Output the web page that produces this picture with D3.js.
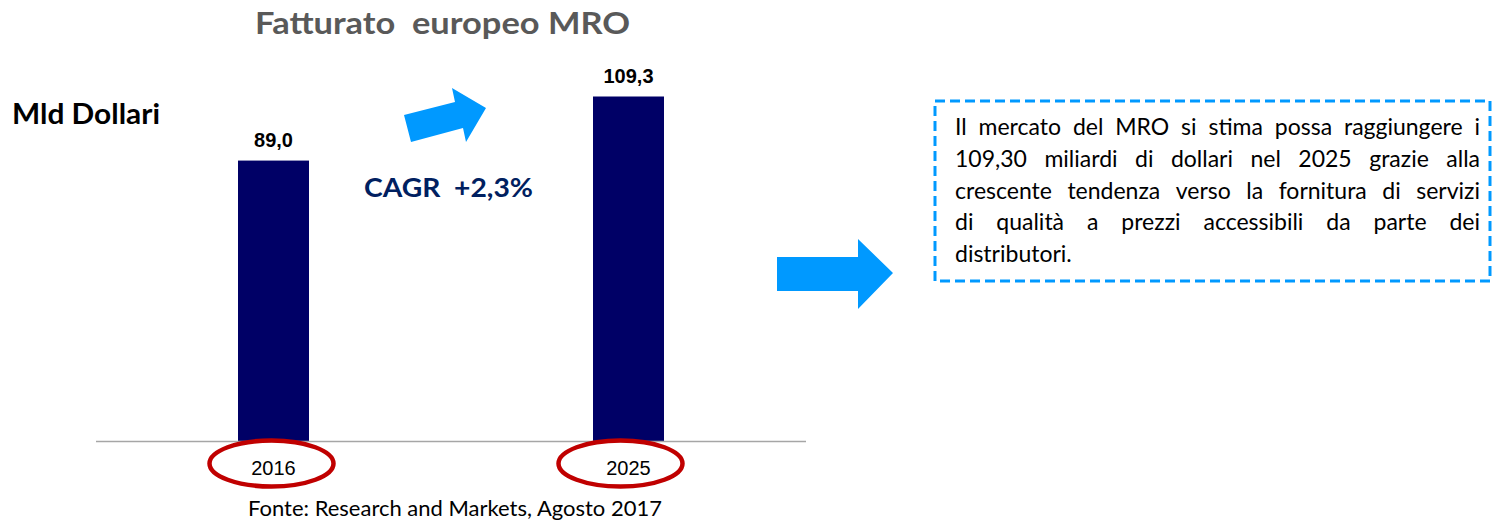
<!DOCTYPE html>
<html>
<head>
<meta charset="utf-8">
<script src="https://cdn.jsdelivr.net/npm/d3@7"></script>
<style>
  html, body { margin: 0; padding: 0; background: #fff; }
  svg { display: block; }
</style>
</head>
<body>
<div id="chart"></div>
<script>
// chart data
const years = ['2016', '2025'];
const revenue = [89.0, 109.3];
const valueLabels = ['89,0', '109,3'];

const titleText = 'Fatturato  europeo MRO';
const unitText = 'Mld Dollari';
const cagrText = 'CAGR  +2,3%';
const sourceText = 'Fonte: Research and Markets, Agosto 2017';
const noteLines = [
  'Il mercato del MRO si stima possa raggiungere i',
  '109,30 miliardi di dollari nel 2025 grazie alla',
  'crescente tendenza verso la fornitura di servizi',
  'di qualità a prezzi accessibili da parte dei',
  'distributori.'
];

const colors = {
  bar: '#000066',
  title: '#595959',
  cagr: '#002060',
  arrow: '#0099FF',
  ring: '#C00000',
  axis: '#A6A6A6',
};

const calibri = 'Lato, "Open Sans", sans-serif';
const arial = '"Liberation Sans", Arial, sans-serif';

const width = 1493, height = 522;

const svg = d3.select('#chart').append('svg')
  .attr('width', width)
  .attr('height', height);

// ----------------------------------------------------------------------------
// SCALES
// ----------------------------------------------------------------------------
const plotLeft = 96, plotRight = 806, baseY = 441.5;

const x = d3.scaleBand()
  .domain(years)
  .range([plotLeft, plotRight])
  .paddingInner(0.8)
  .paddingOuter(0.4);

const y = d3.scaleLinear()
  .domain([0, 109.3])
  .range([baseY, 96.5]);

// ----------------------------------------------------------------------------
// BARS
// ----------------------------------------------------------------------------
const bars = svg.append('g').attr('class', 'bars');
bars.selectAll('rect')
  .data(revenue)
  .join('rect')
    .attr('x', (d, i) => x(years[i]))
    .attr('y', d => y(d))
    .attr('width', x.bandwidth())
    .attr('height', d => baseY - y(d))
    .attr('fill', colors.bar);

bars.selectAll('text')
  .data(revenue)
  .join('text')
    .attr('x', (d, i) => x(years[i]) + x.bandwidth() / 2)
    .attr('y', d => y(d) - 14)
    .attr('text-anchor', 'middle')
    .attr('font-family', arial)
    .attr('font-weight', 'bold')
    .attr('font-size', 20)
    .attr('fill', '#000')
    .text((d, i) => valueLabels[i]);

// baseline
svg.append('line')
  .attr('x1', plotLeft).attr('x2', plotRight)
  .attr('y1', baseY).attr('y2', baseY)
  .attr('stroke', colors.axis)
  .attr('stroke-width', 1.5);

// ----------------------------------------------------------------------------
// X AXIS (years + red rings)
// ----------------------------------------------------------------------------
const axisG = svg.append('g')
  .attr('transform', `translate(0,${baseY})`);
axisG.call(d3.axisBottom(x).tickSize(0).tickPadding(0));
axisG.select('.domain').remove();
axisG.selectAll('.tick text')
  .attr('y', 33)
  .attr('dy', 0)
  .attr('font-family', arial)
  .attr('font-size', 20)
  .attr('fill', '#000');

axisG.selectAll('.tick').insert('ellipse', 'text')
  .attr('cx', (d, i) => i ? -8 : -2)
  .attr('cy', 22)
  .attr('rx', 62)
  .attr('ry', 23)
  .attr('fill', 'none')
  .attr('stroke', colors.ring)
  .attr('stroke-width', 4.5);

// ----------------------------------------------------------------------------
// TEXTS
// ----------------------------------------------------------------------------
svg.append('text')
  .attr('x', 255).attr('y', 34)
  .attr('font-family', calibri)
  .attr('font-weight', 'bold')
  .attr('font-size', 31)
  .attr('fill', colors.title)
  .attr('textLength', 375)
  .attr('lengthAdjust', 'spacingAndGlyphs')
  .style('white-space', 'pre')
  .text(titleText);

svg.append('text')
  .attr('x', 12).attr('y', 124)
  .attr('font-family', calibri)
  .attr('font-weight', 'bold')
  .attr('font-size', 28)
  .attr('fill', '#000')
  .attr('textLength', 148)
  .attr('lengthAdjust', 'spacingAndGlyphs')
  .text(unitText);

svg.append('text')
  .attr('x', 364).attr('y', 197)
  .attr('font-family', calibri)
  .attr('font-weight', 'bold')
  .attr('font-size', 27)
  .attr('fill', colors.cagr)
  .attr('textLength', 169)
  .attr('lengthAdjust', 'spacingAndGlyphs')
  .style('white-space', 'pre')
  .text(cagrText);

svg.append('text')
  .attr('x', 248).attr('y', 516)
  .attr('font-family', calibri)
  .attr('font-size', 21)
  .attr('fill', '#000')
  .attr('textLength', 414)
  .attr('lengthAdjust', 'spacingAndGlyphs')
  .text(sourceText);

// ----------------------------------------------------------------------------
// ARROWS
// ----------------------------------------------------------------------------
const arrowPath = d3.line();
svg.append('path')
  .attr('d', arrowPath([[404, 115], [455, 102], [452, 88], [486, 108], [466, 142], [463, 128], [411, 142]]) + 'Z')
  .attr('fill', colors.arrow);

svg.append('path')
  .attr('d', arrowPath([[777, 257], [858, 257], [858, 239], [893, 273], [858, 309], [858, 291], [777, 291]]) + 'Z')
  .attr('fill', colors.arrow);

// ----------------------------------------------------------------------------
// NOTE BOX (dashed, justified text)
// ----------------------------------------------------------------------------
svg.append('rect')
  .attr('x', 935).attr('y', 101)
  .attr('width', 555).attr('height', 180)
  .attr('fill', 'none')
  .attr('stroke', colors.arrow)
  .attr('stroke-width', 3)
  .attr('stroke-dasharray', '10,5');

const textLeft = 955, textRight = 1480, firstBase = 135, lineGap = 31.8;
const noteG = svg.append('g')
  .attr('font-family', calibri)
  .attr('font-size', 23)
  .attr('fill', '#000');

noteLines.forEach((line, li) => {
  const words = line.split(' ');
  const lineY = firstBase + li * lineGap;
  const nodes = words.map(w => noteG.append('text').attr('y', lineY).text(w));
  const widths = nodes.map(n => n.node().getComputedTextLength());
  const total = d3.sum(widths);
  const last = li === noteLines.length - 1;
  const gap = last || words.length < 2 ? 5 : (textRight - textLeft - total) / (words.length - 1);
  let cx = textLeft;
  nodes.forEach((n, i) => {
    n.attr('x', cx);
    cx += widths[i] + gap;
  });
});
</script>
</body>
</html>
